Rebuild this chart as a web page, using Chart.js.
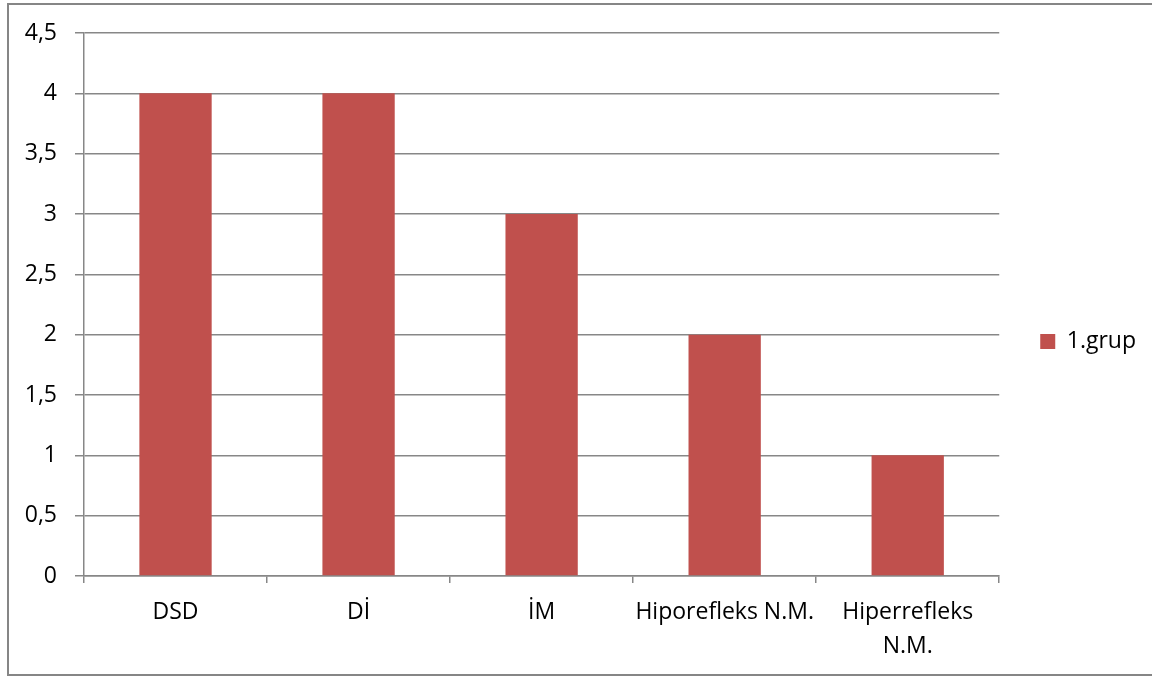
<!DOCTYPE html>
<html lang="tr">
<head>
<meta charset="utf-8">
<title>1.grup</title>
<script src="https://cdn.jsdelivr.net/npm/chart.js@4/dist/chart.umd.min.js"></script>
<style>
  html, body { margin: 0; padding: 0; background: #ffffff; }
  #wrap { width: 1152px; height: 678px; position: relative; }
</style>
</head>
<body>
<div id="wrap"><canvas id="c" width="1152" height="678"></canvas></div>
<script>
// Category labels (multi-line where the label wraps)
const categories = ['DSD', 'Dİ', 'İM', 'Hiporefleks N.M.', ['Hiperrefleks', 'N.M.']];
// Series values
const seriesName = '1.grup';
const seriesValues = [4, 4, 3, 2, 1];
// Value axis ticks
const yTickValues = [0, 0.5, 1, 1.5, 2, 2.5, 3, 3.5, 4, 4.5];

const FONT = "'Open Sans', 'DejaVu Sans', sans-serif";
const FONT_SIZE = 23;
const GRID = '#878787';
const BAR = '#C0504D';

// Outer frame of the chart object
const framePlugin = {
  id: 'frame',
  beforeDraw(chart) {
    const ctx = chart.ctx;
    ctx.save();
    ctx.fillStyle = '#ffffff';
    ctx.fillRect(0, 0, chart.width, chart.height);
    ctx.strokeStyle = '#868686';
    ctx.lineWidth = 2;
    ctx.strokeRect(8, 4, chart.width + 20, 671);
    ctx.restore();
  }
};

// Centre the legend on the full height of the chart object
const legendBandPlugin = {
  id: 'legendBand',
  afterLayout(chart) {
    const lg = chart.legend;
    if (!lg) return;
    const shift = 14;
    lg.top -= shift;
    lg.bottom -= shift;
    if (lg.legendHitBoxes) lg.legendHitBoxes.forEach(b => { b.top -= shift; });
  }
};

new Chart(document.getElementById('c'), {
  type: 'bar',
  data: {
    labels: categories,
    datasets: [{
      label: seriesName,
      data: seriesValues,
      backgroundColor: BAR,
      borderWidth: 0,
      barPercentage: 0.395,
      categoryPercentage: 1.0
    }]
  },
  options: {
    responsive: false,
    animation: false,
    devicePixelRatio: 1,
    layout: { padding: { top: 33, right: 6, bottom: 0, left: 0 } },
    plugins: {
      legend: {
        position: 'right',
        align: 'center',
        labels: {
          boxWidth: 15,
          boxHeight: 15,
          padding: 41,
          color: '#000000',
          font: { family: FONT, size: FONT_SIZE }
        }
      },
      tooltip: { enabled: false },
      title: { display: false }
    },
    scales: {
      x: {
        offset: true,
        grid: {
          display: true,
          offset: true,
          drawOnChartArea: false,
          drawTicks: true,
          tickLength: 7,
          color: GRID,
          lineWidth: 1.5
        },
        border: { display: true, color: GRID, width: 1.5 },
        ticks: {
          autoSkip: false,
          maxRotation: 0,
          minRotation: 0,
          padding: 12,
          color: '#000000',
          font: { family: FONT, size: FONT_SIZE, lineHeight: 34 / FONT_SIZE }
        },
        afterFit(scale) { scale.height = 102; }
      },
      y: {
        min: 0,
        max: 4.5,
        afterBuildTicks(scale) {
          scale.ticks = yTickValues.map(v => ({ value: v }));
        },
        grid: {
          display: true,
          drawTicks: true,
          tickLength: 9,
          color: GRID,
          lineWidth: 1.5
        },
        border: { display: true, color: GRID, width: 1.5 },
        ticks: {
          padding: 18,
          color: '#000000',
          font: { family: FONT, size: FONT_SIZE },
          callback(value) { return String(value).replace('.', ','); }
        },
        afterFit(scale) { scale.width = 84; }
      }
    }
  },
  plugins: [framePlugin, legendBandPlugin]
});
</script>
</body>
</html>
